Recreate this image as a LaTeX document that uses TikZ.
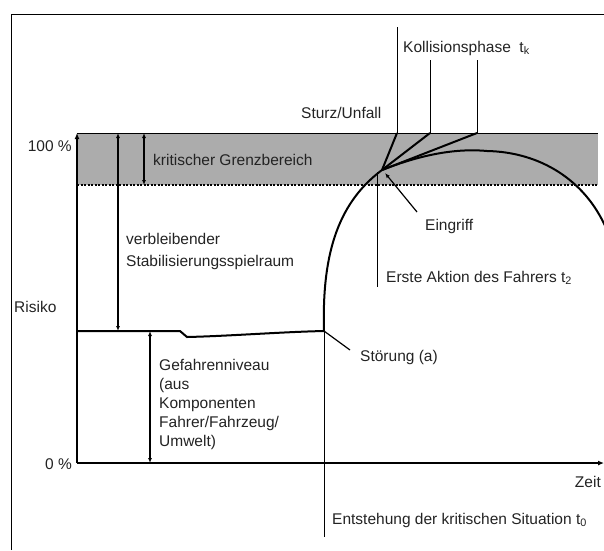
\documentclass[tikz,border=0pt]{standalone}
\usepackage{fontspec}
\setmainfont{Liberation Sans}
\usetikzlibrary{arrows.meta}
\definecolor{bandgrau}{RGB}{172,172,172}
\definecolor{textgrau}{RGB}{35,35,35}
\tikzset{
  txt/.style={inner sep=0pt,text=textgrau,font=\fontsize{15.5}{19}\selectfont},
  dick/.style={line width=2pt},
  duenn/.style={line width=0.9pt},
  pfeil/.style={line width=1.3pt,{Latex[length=5pt,width=4pt]}-{Latex[length=5pt,width=4pt]}},
}
\begin{document}
\begin{tikzpicture}[x=1pt,y=-1pt]
\useasboundingbox (0,0) rectangle (604,550);
\draw [line width=1pt] (11,550) -- (11,14) -- (604,14);

\fill [bandgrau] (77,133) rectangle (598,185);
\draw [line width=1pt] (77,133) -- (598,133);
\draw [line width=1.1pt,dash pattern=on 2pt off 1.5pt] (77,185) -- (598,185);

\coordinate (konv) at (382,170);
\coordinate (stoer) at (324,331);

\draw [dick,-{Latex[length=6pt,width=5pt]}] (77,463) -- (77,133);
\draw [dick,-{Latex[length=6pt,width=5pt]}] (77,463) -- (604,463);

\draw [dick] (77,331) -- (180,331) -- (187,337) .. controls (230,336) and (280,332) .. (stoer);
\draw [duenn] (stoer) -- (324,537);
\draw [dick] (stoer) .. controls (322,260) and (335,205) .. (konv)
  .. controls (420,155) and (455,148) .. (487,151)
  .. controls (540,152) and (585,180) .. (606,228);

\draw [duenn] (397,27) -- (397,133);
\draw [dick] (397,133) -- (konv);
\draw [duenn] (430,60) -- (430,133);
\draw [dick] (430,133) -- (konv);
\draw [duenn] (477,60) -- (477,133);
\draw [dick] (477,133) -- (konv);

\draw [duenn] (377,172) -- (377,287);
\draw [line width=1.2pt,-{Latex[length=5pt,width=4pt]}] (417,212) -- (385,173);
\draw [line width=1.2pt] (stoer) -- (350,350);

\draw [pfeil] (118,133) -- (118,331);
\draw [pfeil] (144,133) -- (144,185);
\draw [pfeil] (150,331) -- (150,463);

\node [txt,anchor=east] (p100) at (72,146) {100 \%};
\node [txt,anchor=east] (p0) at (72,464) {0 \%};
\node [txt,anchor=west] (risiko) at (14,307) {Risiko};
\node [txt,anchor=east] (zeit) at (601,482) {Zeit};
\node [txt,anchor=west] (grenz) at (153,160) {kritischer Grenzbereich};
\node [txt,anchor=north west,align=left,font=\fontsize{15.5}{22}\selectfont] (spiel) at (126,233) {verbleibender\\Stabilisierungsspielraum};
\node [txt,anchor=north west,align=left] (gefahr) at (159,359) {Gefahrenniveau\\(aus\\Komponenten\\Fahrer/Fahrzeug/\\Umwelt)};
\node [txt,anchor=west] (sturz) at (301,113) {Sturz/Unfall};
\node [txt,anchor=west] (kolli) at (403,48) {Kollisionsphase\ \ t\textsubscript{k}};
\node [txt,anchor=west] (aktion) at (386,278) {Erste Aktion des Fahrers t\textsubscript{2}};
\node [txt,anchor=west] (eingriff) at (425,226) {Eingriff};
\node [txt,anchor=west] (stoerung) at (360,357) {Störung (a)};
\node [txt,anchor=west] (entst) at (332,520) {Entstehung der kritischen Situation t\textsubscript{0}};
\end{tikzpicture}
\end{document}
